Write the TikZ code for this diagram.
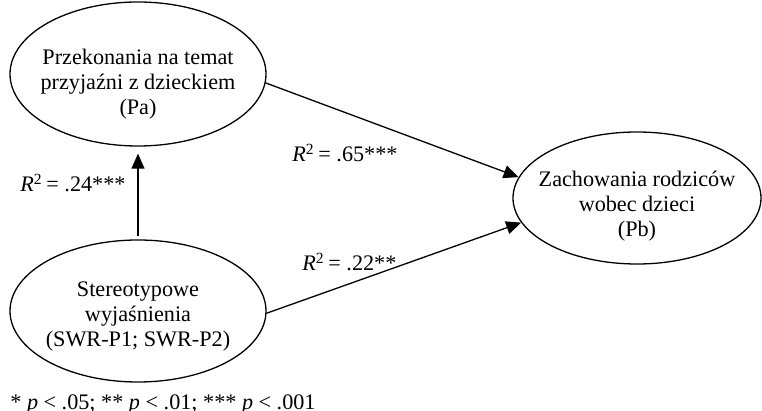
\documentclass[tikz,border=0pt]{standalone}
\usepackage{fontspec}
\setmainfont{Liberation Serif}
\usetikzlibrary{shapes.geometric,arrows.meta}
\tikzset{
  latent/.style={draw,ellipse,line width=.65pt,inner sep=0pt},
  inside/.style={align=center,inner sep=0pt,yshift=-5pt},
  path/.style={-{Triangle[length=7.5pt,width=6.5pt]},line width=.65pt},
  coef/.style={anchor=west,inner sep=0pt}
}
\newcommand{\rsq}[1]{\textit{R}\textsuperscript{2}\,= #1}

\begin{document}
\begin{tikzpicture}[x=.5pt,y=-.5pt,font=\fontsize{11.1}{12.5}\selectfont]
  \useasboundingbox (0,0) rectangle (762,411);
  \node[latent,minimum width=128pt,minimum height=72pt,
    label={[inside]center:Przekonania na temat\\przyjaźni z dzieckiem\\(Pa)}] (pa) at (138,74) {};
  \node[latent,minimum width=128pt,minimum height=71pt,
    label={[inside,yshift=2pt]center:Stereotypowe\\wyjaśnienia\\(SWR-P1; SWR-P2)}] (swr) at (138,311) {};
  \node[latent,minimum width=124pt,minimum height=66pt,
    label={[inside,yshift=1pt]center:Zachowania rodziców\\wobec dzieci\\(Pb)}] (pb) at (637,198) {};
  \draw[path,shorten <=1.5pt,shorten >=3.5pt] (swr) -- (pa);
  \draw[path] (pa.-4) -- (pb.170);
  \draw[path] (swr.-1) -- (pb.192);
  \node[coef] (r1) at (20,183) {\rsq{.24***}};
  \node[coef] (r2) at (292,153) {\rsq{.65***}};
  \node[coef] (r3) at (302,262) {\rsq{.22**}};
  \node[coef] (note) at (10,404) {* \textit{p} < .05; ** \textit{p} < .01; *** \textit{p} < .001};
\end{tikzpicture}
\end{document}
